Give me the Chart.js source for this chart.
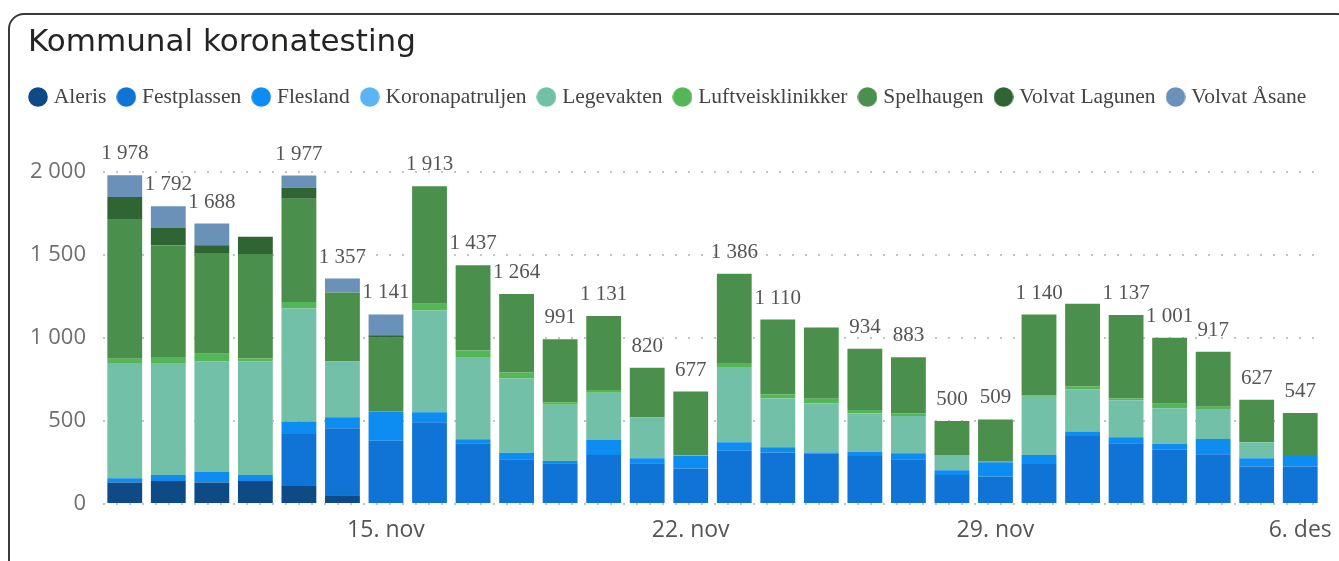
<!DOCTYPE html>
<html>
<head>
<meta charset="utf-8">
<title>Kommunal koronatesting</title>
<script src="https://cdn.jsdelivr.net/npm/chart.js@4/dist/chart.umd.min.js"></script>
<style>
  html, body { margin: 0; padding: 0; background: #fff; overflow: hidden; }
  #wrap { position: absolute; left: 0; top: 0; width: 1339px; height: 561px; }
  #card {
    position: absolute; left: 8px; top: 13px; width: 1345px; height: 575px;
    border: 2.5px solid #3a3a3a; border-radius: 16px; box-sizing: border-box;
    pointer-events: none;
  }
</style>
</head>
<body>
<div id="wrap"><canvas id="testing"></canvas></div>
<div id="card"></div>
<script>
// dates 9. nov - 6. des
const dates = [
  "9. nov", "10. nov", "11. nov", "12. nov", "13. nov", "14. nov", "15. nov",
  "16. nov", "17. nov", "18. nov", "19. nov", "20. nov", "21. nov", "22. nov",
  "23. nov", "24. nov", "25. nov", "26. nov", "27. nov", "28. nov", "29. nov",
  "30. nov", "1. des", "2. des", "3. des", "4. des", "5. des", "6. des"
];
const tickDays = ["15. nov", "22. nov", "29. nov", "6. des"];
const yTicks = [0, 500, 1000, 1500, 2000];

const aleris          = [129, 139, 129, 139, 109, 52, 0, 0, 0, 0, 0, 0, 0, 0, 0, 0, 0, 0, 0, 0, 0, 0, 0, 0, 0, 0, 0, 0];
const festplassen     = [0, 0, 0, 0, 312, 404, 380, 492, 366, 269, 245, 295, 245, 213, 320, 310, 302, 289, 269, 175, 165, 241, 410, 366, 326, 299, 225, 225];
const flesland        = [26, 36, 64, 36, 76, 66, 177, 60, 24, 40, 14, 90, 30, 76, 52, 32, 8, 26, 36, 28, 86, 54, 26, 36, 36, 92, 50, 70];
const koronapatruljen = [0, 0, 0, 0, 0, 0, 0, 0, 0, 0, 0, 0, 0, 0, 0, 0, 0, 0, 0, 0, 0, 0, 0, 0, 0, 0, 0, 0];
const legevakten      = [693, 673, 665, 683, 679, 336, 0, 613, 494, 446, 338, 285, 245, 6, 452, 293, 297, 231, 225, 92, 4, 350, 253, 223, 215, 177, 96, 0];
const luftveis        = [26, 36, 46, 18, 40, 0, 0, 40, 40, 36, 16, 16, 0, 0, 24, 26, 26, 20, 16, 0, 0, 8, 18, 10, 26, 18, 0, 0];
const spelhaugen      = [842, 672, 607, 629, 621, 415, 443, 708, 513, 473, 378, 445, 300, 382, 538, 449, 430, 368, 337, 205, 254, 487, 498, 502, 398, 331, 256, 252];
const lagunen         = [131, 105, 46, 103, 66, 0, 16, 0, 0, 0, 0, 0, 0, 0, 0, 0, 0, 0, 0, 0, 0, 0, 0, 0, 0, 0, 0, 0];
const asane           = [131, 131, 131, 0, 74, 84, 125, 0, 0, 0, 0, 0, 0, 0, 0, 0, 0, 0, 0, 0, 0, 0, 0, 0, 0, 0, 0, 0];

// totals that Power BI left out (overlap)
const skipLabel = [3, 16, 22];

const fmt = (v) => String(Math.round(v)).replace(/\B(?=(\d{3})+(?!\d))/g, " ");

// round legend marker, drawn once per colour
function dot(color) {
  const c = document.createElement("canvas");
  c.width = 20;
  c.height = 20;
  const g = c.getContext("2d");
  g.fillStyle = color;
  g.beginPath();
  g.arc(10, 10, 9.8, 0, Math.PI * 2);
  g.fill();
  return c;
}

const legendSpacing = {
  id: "legendSpacing",
  beforeInit(chart) {
    const origFit = chart.legend.fit;
    chart.legend.fit = function fit() {
      this.maxWidth += 40; // keep all items on one row
      origFit.bind(chart.legend)();
      this.height += 54;
    };
  },
};

const titleShift = {
  id: "titleShift",
  afterLayout(chart) {
    chart.titleBlock.left += 10;
    chart.titleBlock.right += 10;
  },
};

const totalLabels = {
  id: "totalLabels",
  afterDatasetsDraw(chart) {
    const ctx = chart.ctx;
    const y = chart.scales.y;
    const meta = chart.getDatasetMeta(0);
    ctx.save();
    ctx.font = "21px 'Liberation Serif'";
    ctx.fillStyle = "#555555";
    ctx.textAlign = "center";
    ctx.textBaseline = "alphabetic";
    dates.forEach((d, i) => {
      if (skipLabel.includes(i)) return;
      let total = 0;
      chart.data.datasets.forEach((ds) => { total += ds.data[i]; });
      ctx.fillText(fmt(total), meta.data[i].x, y.getPixelForValue(total) - 16);
    });
    ctx.restore();
  },
};

const mk = (label, data, color) => ({
  label: label,
  data: data,
  backgroundColor: color,
  borderColor: color,
  borderWidth: 0,
  barPercentage: 0.8,
  categoryPercentage: 1.0,
});

const testing = document.getElementById("testing").getContext("2d");

const testingChart = new Chart(testing, {
  type: "bar",
  data: {
    labels: dates,
    datasets: [
      mk("Aleris", aleris, "#0e4a86"),
      mk("Festplassen", festplassen, "#0f74d6"),
      mk("Flesland", flesland, "#0d8cf2"),
      mk("Koronapatruljen", koronapatruljen, "#5bb5f5"),
      mk("Legevakten", legevakten, "#72c0a7"),
      mk("Luftveisklinikker", luftveis, "#55b657"),
      mk("Spelhaugen", spelhaugen, "#4a8f4b"),
      mk("Volvat Lagunen", lagunen, "#2f6532"),
      mk("Volvat Åsane", asane, "#6a91b7"),
    ],
  },
  options: {
    responsive: true,
    maintainAspectRatio: false,
    animation: false,
    layout: {
      padding: { left: 18, right: 17, top: 0, bottom: 17 },
    },
    plugins: {
      title: {
        display: true,
        text: "Kommunal koronatesting",
        align: "start",
        color: "#252423",
        font: { family: "'DejaVu Sans'", size: 31, weight: "normal" },
        padding: { top: 24, bottom: 10 },
      },
      legend: {
        display: true,
        position: "top",
        align: "start",
        labels: {
          usePointStyle: true,
          boxWidth: 10,
          boxHeight: 10,
          padding: 15,
          color: "#444444",
          font: { family: "'Liberation Serif'", size: 21.5 },
          generateLabels: function (chart) {
            const items = Chart.defaults.plugins.legend.labels.generateLabels(chart);
            items.forEach((it) => { it.pointStyle = dot(it.fillStyle); });
            return items;
          },
        },
      },
      tooltip: { enabled: false },
    },
    scales: {
      x: {
        stacked: true,
        grid: { display: false },
        border: { display: false },
        afterFit: (axis) => { axis.height = 40; },
        ticks: {
          autoSkip: false,
          maxRotation: 0,
          padding: 5,
          color: "#555555",
          font: { family: "'Open Sans'", size: 23 },
          callback: function (value, index) {
            const d = dates[index];
            return tickDays.includes(d) ? d : null;
          },
        },
      },
      y: {
        stacked: true,
        min: yTicks[0],
        max: yTicks[yTicks.length - 1],
        afterFit: (axis) => { axis.width = 85; },
        afterBuildTicks: (axis) => { axis.ticks = yTicks.map((v) => ({ value: v })); },
        grid: { color: "#c4c4c4", lineWidth: 2, drawTicks: false },
        border: { display: false, dash: [2, 11] },
        ticks: {
          padding: 17,
          color: "#6f6f6f",
          font: { family: "'Open Sans'", size: 22 },
          callback: function (value) { return fmt(value); },
        },
      },
    },
  },
  plugins: [legendSpacing, titleShift, totalLabels],
});
</script>
</body>
</html>
